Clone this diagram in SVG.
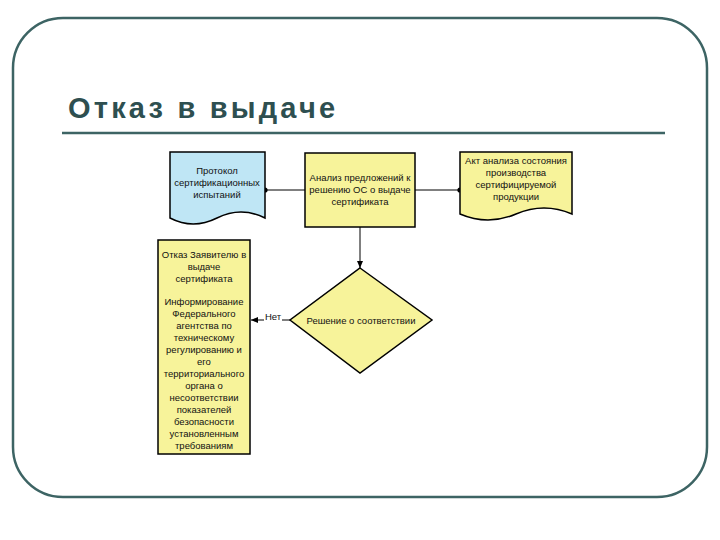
<svg xmlns="http://www.w3.org/2000/svg" width="720" height="540" viewBox="0 0 720 540">
<style>
.t{font-family:"Liberation Sans",Arial,sans-serif;font-size:9.5px;fill:#111;text-anchor:middle}
.box{stroke:#000;stroke-width:1.5}
.c{stroke:#000;stroke-width:1;fill:none}
</style>
<defs>
<marker id="a" markerWidth="8" markerHeight="8" refX="7" refY="4" orient="auto" markerUnits="userSpaceOnUse"><path d="M0,1 L7,4 L0,7 z" fill="#000"/></marker>
<marker id="d" markerWidth="6" markerHeight="6" refX="3" refY="3" markerUnits="userSpaceOnUse"><circle cx="3" cy="3" r="2.6" fill="#000"/></marker>
</defs>
<rect x="0" y="0" width="720" height="540" fill="#fff"/>
<rect x="13" y="18" width="694" height="479" rx="50" fill="#fff" stroke="#3d6464" stroke-width="2.5"/>
<text x="68" y="118" font-family="Liberation Sans,Arial,sans-serif" font-weight="bold" font-size="29" letter-spacing="3.2" fill="#2e4f50">Отказ в выдаче</text>
<line x1="62" y1="133" x2="665" y2="133" stroke="#3d6464" stroke-width="2.5"/>
<g id="connectors">
<line class="c" x1="305" y1="190" x2="265" y2="190" marker-end="url(#d)"/>
<line class="c" x1="415" y1="190" x2="460" y2="190" marker-end="url(#d)"/>
<line class="c" x1="360" y1="227" x2="360" y2="268" marker-end="url(#a)"/>
<line class="c" x1="290" y1="320" x2="282" y2="320"/>
<line class="c" x1="264" y1="320" x2="251" y2="320" marker-end="url(#a)"/>
<text class="t" x="273" y="320">Нет</text>
</g>
<g id="protocol">
<path class="box" d="M170,152 H265 V218 Q241,206 217,218 T170,218 Z" fill="#bfe6f5"/>
<text class="t" x="217" y="174">Протокол</text>
<text class="t" x="217" y="186">сертификационных</text>
<text class="t" x="217" y="198">испытаний</text>
</g>
<g id="analysis">
<rect class="box" x="305" y="153" width="110" height="74" fill="#f7f39a"/>
<text class="t" x="360" y="181">Анализ предложений к</text>
<text class="t" x="360" y="193">решению ОС о выдаче</text>
<text class="t" x="360" y="205">сертификата</text>
</g>
<g id="akt">
<path class="box" d="M460,152 H572 V214 Q544,202 516,214 T460,214 Z" fill="#f7f39a"/>
<text class="t" x="516" y="164">Акт анализа состояния</text>
<text class="t" x="516" y="176">производства</text>
<text class="t" x="516" y="188">сертифицируемой</text>
<text class="t" x="516" y="200">продукции</text>
</g>
<g id="refusal">
<rect class="box" x="158" y="240" width="92" height="214" fill="#f7f39a"/>
<text class="t" x="204" y="258">Отказ Заявителю в</text>
<text class="t" x="204" y="270">выдаче</text>
<text class="t" x="204" y="282">сертификата</text>
<text class="t" x="204" y="305">Информирование</text>
<text class="t" x="204" y="317">Федерального</text>
<text class="t" x="204" y="329">агентства по</text>
<text class="t" x="204" y="341">техническому</text>
<text class="t" x="204" y="353">регулированию  и</text>
<text class="t" x="204" y="365">его</text>
<text class="t" x="204" y="377">территориального</text>
<text class="t" x="204" y="389">органа о</text>
<text class="t" x="204" y="401">несоответствии</text>
<text class="t" x="204" y="413">показателей</text>
<text class="t" x="204" y="425">безопасности</text>
<text class="t" x="204" y="437">установленным</text>
<text class="t" x="204" y="449">требованиям</text>
</g>
<g id="decision">
<path class="box" d="M360,268 L432,320 L360,373 L290,320 Z" fill="#f7f39a"/>
<text class="t" x="361" y="324">Решение о соответствии</text>
</g>
</svg>
